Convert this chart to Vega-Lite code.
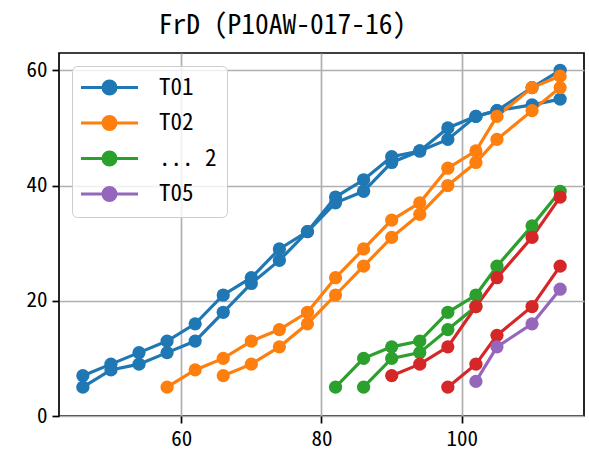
{
  "$schema": "https://vega.github.io/schema/vega-lite/v6.json",
  "width": 525,
  "height": 363,
  "autosize": "none",
  "padding": {"left": 59, "top": 53, "right": 5, "bottom": 43},
  "background": "white",
  "title": {
    "text": "FrD (P10AW-017-16)",
    "font": "Noto Sans Mono CJK JP, Noto Sans CJK JP",
    "fontSize": 27.5,
    "fontWeight": "normal",
    "color": "black",
    "anchor": "middle",
    "baseline": "alphabetic",
    "offset": 20,
    "dx": -39,
    "dy": 28
  },
  "config": {
    "view": {"stroke": "black", "strokeWidth": 1.7},
    "axis": {
      "domain": false,
      "grid": true,
      "gridColor": "#b0b0b0",
      "gridWidth": 1.7,
      "tickColor": "black",
      "tickWidth": 1.7,
      "tickSize": 7,
      "labelFont": "Noto Sans Mono CJK JP, Noto Sans CJK JP",
      "labelFontSize": 21,
      "labelColor": "black",
      "labelPadding": 5,
      "title": null
    }
  },
  "data": {
    "values": [
      {"grp": "T01", "line": "T01a", "x": 46, "y": 7},
      {"grp": "T01", "line": "T01a", "x": 50, "y": 9},
      {"grp": "T01", "line": "T01a", "x": 54, "y": 11},
      {"grp": "T01", "line": "T01a", "x": 58, "y": 13},
      {"grp": "T01", "line": "T01a", "x": 62, "y": 16},
      {"grp": "T01", "line": "T01a", "x": 66, "y": 21},
      {"grp": "T01", "line": "T01a", "x": 70, "y": 24},
      {"grp": "T01", "line": "T01a", "x": 74, "y": 29},
      {"grp": "T01", "line": "T01a", "x": 78, "y": 32},
      {"grp": "T01", "line": "T01a", "x": 82, "y": 38},
      {"grp": "T01", "line": "T01a", "x": 86, "y": 41},
      {"grp": "T01", "line": "T01a", "x": 90, "y": 45},
      {"grp": "T01", "line": "T01a", "x": 94, "y": 46},
      {"grp": "T01", "line": "T01a", "x": 98, "y": 50},
      {"grp": "T01", "line": "T01a", "x": 102, "y": 52},
      {"grp": "T01", "line": "T01a", "x": 105, "y": 53},
      {"grp": "T01", "line": "T01a", "x": 110, "y": 57},
      {"grp": "T01", "line": "T01a", "x": 114, "y": 60},
      {"grp": "T01", "line": "T01b", "x": 46, "y": 5},
      {"grp": "T01", "line": "T01b", "x": 50, "y": 8},
      {"grp": "T01", "line": "T01b", "x": 54, "y": 9},
      {"grp": "T01", "line": "T01b", "x": 58, "y": 11},
      {"grp": "T01", "line": "T01b", "x": 62, "y": 13},
      {"grp": "T01", "line": "T01b", "x": 66, "y": 18},
      {"grp": "T01", "line": "T01b", "x": 70, "y": 23},
      {"grp": "T01", "line": "T01b", "x": 74, "y": 27},
      {"grp": "T01", "line": "T01b", "x": 78, "y": 32},
      {"grp": "T01", "line": "T01b", "x": 82, "y": 37},
      {"grp": "T01", "line": "T01b", "x": 86, "y": 39},
      {"grp": "T01", "line": "T01b", "x": 90, "y": 44},
      {"grp": "T01", "line": "T01b", "x": 94, "y": 46},
      {"grp": "T01", "line": "T01b", "x": 98, "y": 48},
      {"grp": "T01", "line": "T01b", "x": 102, "y": 52},
      {"grp": "T01", "line": "T01b", "x": 105, "y": 53},
      {"grp": "T01", "line": "T01b", "x": 110, "y": 54},
      {"grp": "T01", "line": "T01b", "x": 114, "y": 55},
      {"grp": "T02", "line": "T02a", "x": 58, "y": 5},
      {"grp": "T02", "line": "T02a", "x": 62, "y": 8},
      {"grp": "T02", "line": "T02a", "x": 66, "y": 10},
      {"grp": "T02", "line": "T02a", "x": 70, "y": 13},
      {"grp": "T02", "line": "T02a", "x": 74, "y": 15},
      {"grp": "T02", "line": "T02a", "x": 78, "y": 18},
      {"grp": "T02", "line": "T02a", "x": 82, "y": 24},
      {"grp": "T02", "line": "T02a", "x": 86, "y": 29},
      {"grp": "T02", "line": "T02a", "x": 90, "y": 34},
      {"grp": "T02", "line": "T02a", "x": 94, "y": 37},
      {"grp": "T02", "line": "T02a", "x": 98, "y": 43},
      {"grp": "T02", "line": "T02a", "x": 102, "y": 46},
      {"grp": "T02", "line": "T02a", "x": 105, "y": 52},
      {"grp": "T02", "line": "T02a", "x": 110, "y": 57},
      {"grp": "T02", "line": "T02a", "x": 114, "y": 59},
      {"grp": "T02", "line": "T02b", "x": 66, "y": 7},
      {"grp": "T02", "line": "T02b", "x": 70, "y": 9},
      {"grp": "T02", "line": "T02b", "x": 74, "y": 12},
      {"grp": "T02", "line": "T02b", "x": 78, "y": 16},
      {"grp": "T02", "line": "T02b", "x": 82, "y": 21},
      {"grp": "T02", "line": "T02b", "x": 86, "y": 26},
      {"grp": "T02", "line": "T02b", "x": 90, "y": 31},
      {"grp": "T02", "line": "T02b", "x": 94, "y": 35},
      {"grp": "T02", "line": "T02b", "x": 98, "y": 40},
      {"grp": "T02", "line": "T02b", "x": 102, "y": 44},
      {"grp": "T02", "line": "T02b", "x": 105, "y": 48},
      {"grp": "T02", "line": "T02b", "x": 110, "y": 53},
      {"grp": "T02", "line": "T02b", "x": 114, "y": 57},
      {"grp": "... 2", "line": "G1", "x": 82, "y": 5},
      {"grp": "... 2", "line": "G1", "x": 86, "y": 10},
      {"grp": "... 2", "line": "G1", "x": 90, "y": 12},
      {"grp": "... 2", "line": "G1", "x": 94, "y": 13},
      {"grp": "... 2", "line": "G1", "x": 98, "y": 18},
      {"grp": "... 2", "line": "G1", "x": 102, "y": 21},
      {"grp": "... 2", "line": "G1", "x": 105, "y": 26},
      {"grp": "... 2", "line": "G1", "x": 110, "y": 33},
      {"grp": "... 2", "line": "G1", "x": 114, "y": 39},
      {"grp": "... 2", "line": "G2", "x": 86, "y": 5},
      {"grp": "... 2", "line": "G2", "x": 90, "y": 10},
      {"grp": "... 2", "line": "G2", "x": 94, "y": 11},
      {"grp": "... 2", "line": "G2", "x": 98, "y": 15},
      {"grp": "... 2", "line": "G2", "x": 102, "y": 19},
      {"grp": "T04", "line": "R1", "x": 90, "y": 7},
      {"grp": "T04", "line": "R1", "x": 94, "y": 9},
      {"grp": "T04", "line": "R1", "x": 98, "y": 12},
      {"grp": "T04", "line": "R1", "x": 102, "y": 19},
      {"grp": "T04", "line": "R1", "x": 105, "y": 24},
      {"grp": "T04", "line": "R1", "x": 110, "y": 31},
      {"grp": "T04", "line": "R1", "x": 114, "y": 38},
      {"grp": "T04", "line": "R2", "x": 98, "y": 5},
      {"grp": "T04", "line": "R2", "x": 102, "y": 9},
      {"grp": "T04", "line": "R2", "x": 105, "y": 14},
      {"grp": "T04", "line": "R2", "x": 110, "y": 19},
      {"grp": "T04", "line": "R2", "x": 114, "y": 26},
      {"grp": "T05", "line": "P1", "x": 102, "y": 6},
      {"grp": "T05", "line": "P1", "x": 105, "y": 12},
      {"grp": "T05", "line": "P1", "x": 110, "y": 16},
      {"grp": "T05", "line": "P1", "x": 114, "y": 22}
    ]
  },
  "encoding": {
    "x": {"field": "x", "type": "quantitative", "scale": {"domain": [42.6, 117.4], "nice": false, "zero": false}, "axis": {"values": [60, 80, 100]}},
    "y": {"field": "y", "type": "quantitative", "scale": {"domain": [0, 63], "nice": false}, "axis": {"values": [0, 20, 40, 60]}},
    "color": {
      "field": "grp",
      "type": "nominal",
      "scale": {"domain": ["T01", "T02", "... 2", "T04", "T05"], "range": ["#1f77b4", "#ff7f0e", "#2ca02c", "#d62728", "#9467bd"]},
      "legend": {
        "values": ["T01", "T02", "... 2", "T05"],
        "title": null,
        "orient": "none",
        "legendX": 13,
        "legendY": 13,
        "fillColor": "rgba(255,255,255,0.8)",
        "strokeColor": "#cccccc",
        "cornerRadius": 5,
        "padding": 10,
        "symbolType": "M-1.25,0L4.45,0M0.95,0A0.65,0.65,0,1,1,2.25,0A0.65,0.65,0,1,1,0.95,0Z",
        "symbolSize": 400,
        "symbolStrokeWidth": 3,
        "symbolOpacity": 1,
        "labelFont": "Noto Sans Mono CJK JP, Noto Sans CJK JP",
        "labelFontSize": 23,
        "labelColor": "black",
        "labelOffset": 54,
        "rowPadding": 10.5,
        "encode": {
          "symbols": {"update": {"fill": {"scale": "color", "field": "value"}, "stroke": {"scale": "color", "field": "value"}, "fillOpacity": {"value": 1}, "strokeOpacity": {"value": 1}}}
        }
      }
    },
    "detail": {"field": "line"}
  },
  "layer": [
    {"mark": {"type": "line", "strokeWidth": 3.2}},
    {"mark": {"type": "point", "filled": true, "size": 175, "opacity": 1}}
  ]
}
